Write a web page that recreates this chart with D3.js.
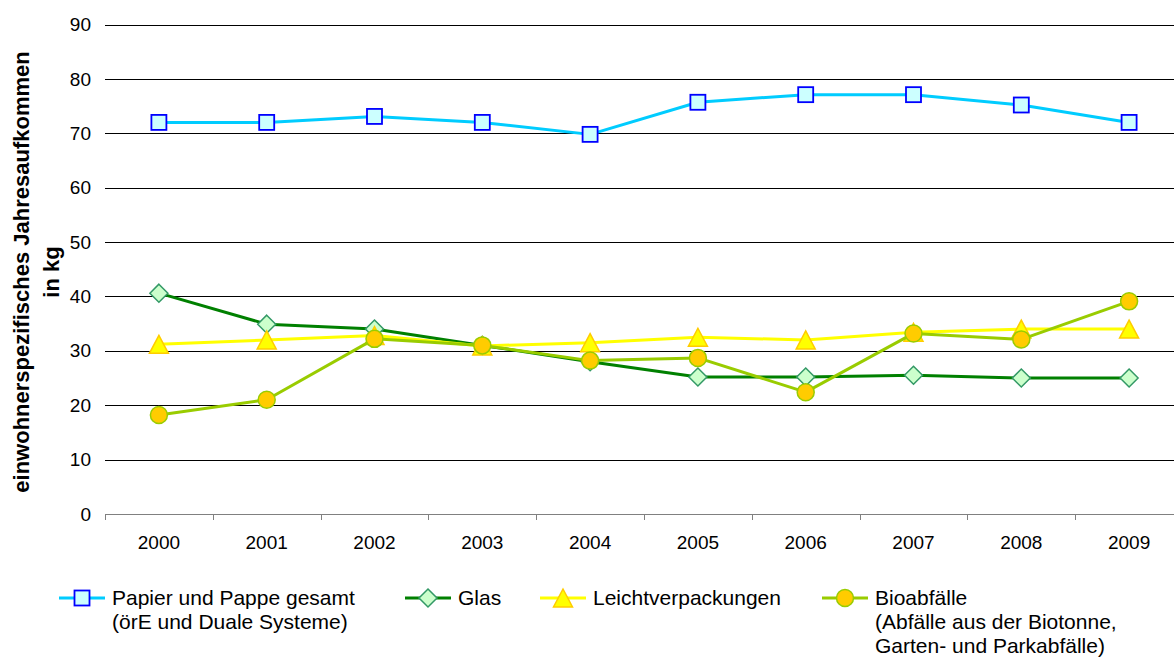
<!DOCTYPE html>
<meta charset="utf-8">
<style>
body { margin: 0; background: #fff; font-family: "Liberation Sans", Arial, Helvetica, sans-serif; }
.grid line { stroke: #000; stroke-width: 1; shape-rendering: crispEdges; }
.tick-label { font-size: 19px; fill: #000; }
.legend text { font-size: 21px; fill: #000; }
.ytitle { font-size: 22px; font-weight: bold; fill: #000; }
</style>
<svg width="1174" height="666"></svg>
<script src="https://cdn.jsdelivr.net/npm/d3@7"></script>
<script>

var years = ["2000", "2001", "2002", "2003", "2004", "2005", "2006", "2007", "2008", "2009"];
var yTicks = [0, 10, 20, 30, 40, 50, 60, 70, 80, 90];

var papier = [72.0, 72.0, 73.1, 72.0, 69.8, 75.7, 77.1, 77.1, 75.2, 72.0];
var glas = [40.6, 34.9, 34.0, 31.0, 28.0, 25.2, 25.2, 25.5, 25.0, 25.0];
var leicht = [31.2, 32.0, 32.8, 30.9, 31.5, 32.5, 32.0, 33.4, 34.0, 34.0];
var bio = [18.2, 21.0, 32.2, 31.0, 28.2, 28.7, 22.4, 33.2, 32.1, 39.1];

var seriesNames = [
  ["Papier und Pappe gesamt", "(örE und Duale Systeme)"],
  ["Glas"],
  ["Leichtverpackungen"],
  ["Bioabfälle", "(Abfälle aus der Biotonne,", "Garten- und Parkabfälle)"]
];

var svg = d3.select("svg");
var width = +svg.attr("width"), height = +svg.attr("height");

var x = d3.scaleBand().domain(years).range([105, 1183]);
var y = d3.scaleLinear().domain([0, 90]).range([514, 24.5]);

// series styling
var series = [
  { values: papier, line: "#00ccff", fill: "#ccffff", stroke: "#0000ff", shape: "square" },
  { values: glas, line: "#008000", fill: "#ccffcc", stroke: "#339966", shape: "diamond" },
  { values: leicht, line: "#ffff00", fill: "#ffff00", stroke: "#ffcc00", shape: "triangle" },
  { values: bio, line: "#99cc00", fill: "#ffcc00", stroke: "#99cc00", shape: "circle" }
];

function marker(sel, s) {
  if (s.shape == "square") {
    sel.append("rect").attr("x", -7.5).attr("y", -7.5).attr("width", 15).attr("height", 15)
      .attr("fill", s.fill).attr("stroke", s.stroke).attr("stroke-width", 1.8);
  } else if (s.shape == "diamond") {
    sel.append("path").attr("d", "M0,-9 L9,0 L0,9 L-9,0 Z")
      .attr("fill", s.fill).attr("stroke", s.stroke).attr("stroke-width", 1.5);
  } else if (s.shape == "triangle") {
    sel.append("path").attr("d", "M0,-9 L9.5,9 L-9.5,9 Z")
      .attr("fill", s.fill).attr("stroke", s.stroke).attr("stroke-width", 1.5);
  } else {
    sel.append("circle").attr("r", 8.5)
      .attr("fill", s.fill).attr("stroke", s.stroke).attr("stroke-width", 1.5);
  }
}

// gridlines
svg.append("g").attr("class", "grid")
  .selectAll("line")
  .data(yTicks.filter(function(d) { return d > 0; }))
  .enter().append("line")
    .attr("x1", 105).attr("x2", width)
    .attr("y1", function(d) { return Math.round(y(d)) + 0.5; })
    .attr("y2", function(d) { return Math.round(y(d)) + 0.5; });

// y tick labels
svg.append("g")
  .selectAll("text")
  .data(yTicks)
  .enter().append("text")
    .attr("class", "tick-label")
    .attr("x", 91)
    .attr("y", function(d) { return y(d); })
    .attr("dy", "0.35em")
    .attr("text-anchor", "end")
    .text(function(d) { return d; });

// x axis
var xAxis = svg.append("g");
xAxis.append("line")
  .attr("x1", 105).attr("x2", width)
  .attr("y1", Math.round(y(0)) + 0.5).attr("y2", Math.round(y(0)) + 0.5)
  .attr("stroke", "#808080").attr("shape-rendering", "crispEdges");
xAxis.selectAll(".tk")
  .data(years)
  .enter().append("line")
    .attr("x1", function(d) { return Math.round(x(d)) + 0.5; })
    .attr("x2", function(d) { return Math.round(x(d)) + 0.5; })
    .attr("y1", Math.round(y(0))).attr("y2", Math.round(y(0)) + 6)
    .attr("stroke", "#808080").attr("shape-rendering", "crispEdges");
xAxis.selectAll("text")
  .data(years)
  .enter().append("text")
    .attr("class", "tick-label")
    .attr("x", function(d) { return x(d) + x.bandwidth() / 2; })
    .attr("y", 542)
    .attr("dy", "0.35em")
    .attr("text-anchor", "middle")
    .text(function(d) { return d; });

// y title
var title = svg.append("text")
  .attr("class", "ytitle")
  .attr("transform", "translate(0,272) rotate(-90)")
  .attr("text-anchor", "middle");
title.append("tspan").attr("x", 0).attr("y", 29).text("einwohnerspezifisches Jahresaufkommen");
title.append("tspan").attr("x", 0).attr("y", 59).text("in kg");

// series
var line = d3.line()
  .x(function(d, i) { return x(years[i]) + x.bandwidth() / 2; })
  .y(function(d) { return y(d); });

series.forEach(function(s) {
  var g = svg.append("g");
  g.append("path")
    .datum(s.values)
    .attr("d", line)
    .attr("fill", "none")
    .attr("stroke", s.line)
    .attr("stroke-width", 3)
    .attr("stroke-linejoin", "round");
  g.selectAll(".m")
    .data(s.values)
    .enter().append("g")
      .attr("transform", function(d, i) {
        return "translate(" + (x(years[i]) + x.bandwidth() / 2) + "," + y(d) + ")";
      })
      .each(function() { marker(d3.select(this), s); });
});

// legend
var legendX = [82, 428, 563, 845];
var legendY = 598;
var legend = svg.append("g").attr("class", "legend");
series.forEach(function(s, i) {
  var g = legend.append("g").attr("transform", "translate(" + legendX[i] + "," + legendY + ")");
  g.append("line").attr("x1", -23).attr("x2", 23).attr("y1", 0).attr("y2", 0)
    .attr("stroke", s.line).attr("stroke-width", 3);
  marker(g.append("g"), s);
  var t = g.append("text").attr("x", 30);
  seriesNames[i].forEach(function(nm, j) {
    t.append("tspan").attr("x", 30).attr("y", j * 24).attr("dy", "0.35em").text(nm);
  });
});

</script>
